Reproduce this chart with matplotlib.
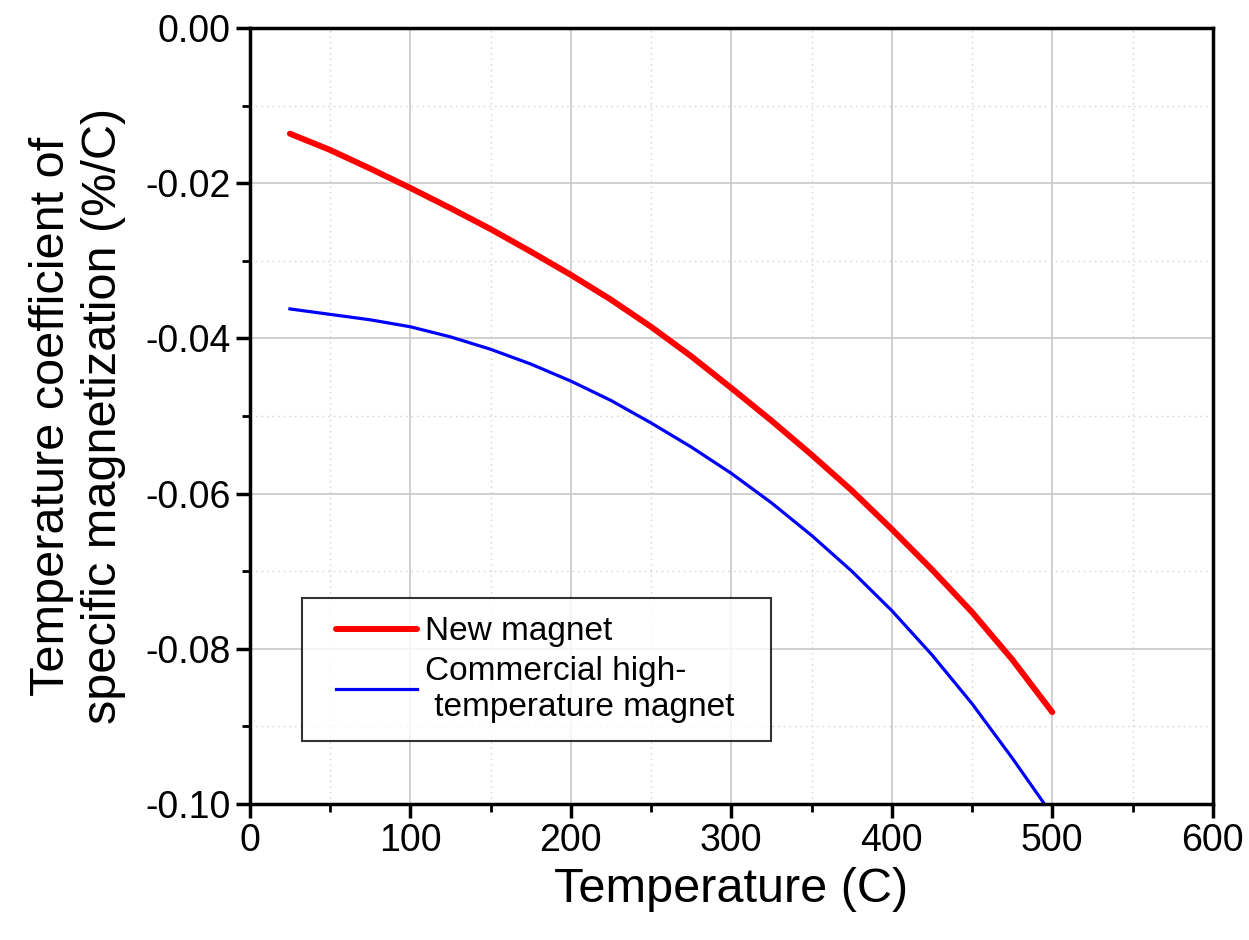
import matplotlib
matplotlib.use("Agg")
import matplotlib.pyplot as plt
import numpy as np
from matplotlib.ticker import MultipleLocator, FuncFormatter

plt.rcParams['font.family'] = ['Liberation Sans', 'DejaVu Sans']
plt.rcParams['axes.unicode_minus'] = False

# Temperature coefficient readings (%/C)
temp_new = [25, 50, 75, 100, 125, 150, 175, 200, 225, 250, 275, 300, 325, 350, 375, 400, 425, 450, 475, 500]
coef_new = [-0.0136, -0.0157, -0.0181, -0.0206, -0.0232, -0.0259, -0.0288, -0.0318, -0.0350, -0.0385,
            -0.0423, -0.0464, -0.0506, -0.0550, -0.0596, -0.0646, -0.0698, -0.0753, -0.0814, -0.0882]

temp_com = [25, 50, 75, 100, 125, 150, 175, 200, 225, 250, 275, 300, 325, 350, 375, 400, 425, 450, 475, 495]
coef_com = [-0.0362, -0.0369, -0.0376, -0.0385, -0.0398, -0.0414, -0.0433, -0.0455, -0.0480, -0.0509,
            -0.0540, -0.0574, -0.0612, -0.0654, -0.0700, -0.0751, -0.0808, -0.0871, -0.0941, -0.1000]

fig = plt.figure(figsize=(12.49, 9.4), dpi=100)
ax = fig.add_axes([0.2, 0.145, 0.771, 0.825])

ax.plot(temp_new, coef_new, color='red', lw=4.3, solid_capstyle='round', label='New magnet')
ax.plot(temp_com, coef_com, color='blue', lw=2.3, label='Commercial high-\n temperature magnet  ')

ax.set_xlim(0, 600)
ax.set_ylim(-0.10, 0.0)
ax.xaxis.set_major_locator(MultipleLocator(100))
ax.xaxis.set_minor_locator(MultipleLocator(50))
ax.yaxis.set_major_locator(MultipleLocator(0.02))
ax.yaxis.set_minor_locator(MultipleLocator(0.01))
ax.yaxis.set_major_formatter(FuncFormatter(lambda v, p: '0.00' if abs(v) < 1e-9 else '%.2f' % v))

ax.grid(which='major', color='#c8c8c8', lw=1.2)
ax.grid(which='minor', color='#d0d0d0', lw=1.0, ls=(0, (1, 3)))
ax.set_axisbelow(True)

for s in ax.spines.values():
    s.set_linewidth(2.5)
ax.tick_params(which='major', direction='out', length=10, width=2.5, labelsize=27, pad=4)
ax.tick_params(which='minor', direction='out', length=6, width=2)

ax.set_xlabel('Temperature (C)', fontsize=35, labelpad=6)
ax.set_ylabel('Temperature coefficient of\nspecific magnetization (%/C)', fontsize=35, labelpad=14)

leg = ax.legend(loc='lower left', bbox_to_anchor=(0.054, 0.081), fontsize=24, frameon=True,
                fancybox=False, edgecolor='black', handlelength=2.9, handletextpad=0.24,
                borderpad=0.55, labelspacing=0.25, borderaxespad=0)
leg.get_frame().set_linewidth(1.5)
# push the handle lines a little right, away from the frame
for ln in leg.get_lines():
    x = np.asarray(ln.get_xdata(), dtype=float)
    ln.set_xdata(np.linspace(x[0] + 11.5, x[-1], len(x)))

fig.savefig('out.png', dpi=100)
